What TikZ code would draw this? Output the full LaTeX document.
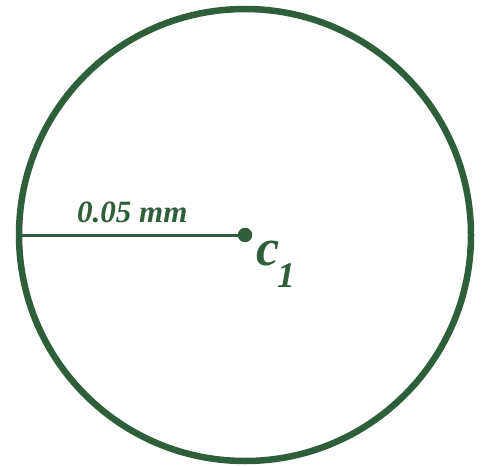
\documentclass[tikz,border=0pt]{standalone}
\usepackage{fontspec}
\setmainfont{Liberation Serif}
\definecolor{darkgreen}{HTML}{2E5E3A}
\tikzset{
    lbl/.style={text=darkgreen, inner sep=0pt, anchor=base west},
}
\begin{document}
\begin{tikzpicture}[x=1pt, y=-1pt]
        \useasboundingbox (0,0) rectangle (486,465);

        \draw[darkgreen, line width=6.5pt] (245,235) circle (226);
        \coordinate (edge) at (19,235);
        \node[circle, fill=darkgreen, inner sep=0pt, minimum size=14.5pt] (c1) at (245,235) {};
        \draw[darkgreen, line width=3pt] (edge) -- (c1.center);

        \node[lbl, font=\fontsize{31}{31}\selectfont\bfseries\itshape] (radius) at (77,222) {0.05 mm};
        \node[lbl, font=\fontsize{52}{52}\selectfont\bfseries\itshape] (cname) at (256,265) {c};
        \node[lbl, font=\fontsize{36}{36}\selectfont\bfseries\itshape] (cidx) at (277,287) {1};
    \end{tikzpicture}
\end{document}
